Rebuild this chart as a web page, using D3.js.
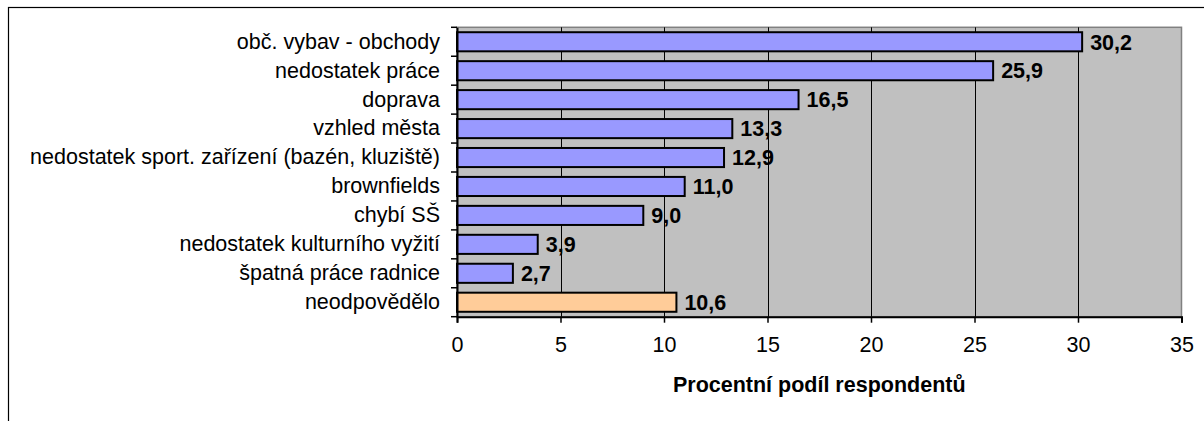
<!DOCTYPE html>
<html>
<head>
<meta charset="utf-8">
<script src="https://cdn.jsdelivr.net/npm/d3@7"></script>
<style>
html,body{margin:0;padding:0;background:#fff;}
svg{display:block;}
text{font-family:"Liberation Sans",Arial,sans-serif;}
</style>
</head>
<body>
<svg id="chart" width="1204" height="421"></svg>
<script>
const categories = ["obč. vybav - obchody","nedostatek práce","doprava","vzhled města","nedostatek sport. zařízení (bazén, kluziště)","brownfields","chybí SŠ","nedostatek kulturního vyžití","špatná práce radnice","neodpovědělo"];
const values = [30.2,25.9,16.5,13.3,12.9,11.0,9.0,3.9,2.7,10.6];
const barColors = ["#9999FF","#9999FF","#9999FF","#9999FF","#9999FF","#9999FF","#9999FF","#9999FF","#9999FF","#FFCC99"];
const xTicks = [0,5,10,15,20,25,30,35];
const xTitle = "Procentní podíl respondentů";

const svg = d3.select("#chart");
const L = 457, R = 1181.5, T = 27.3, B = 316.7;
const FS = 21.5;

// outer frame
svg.append("rect").attr("x",8.5).attr("y",7.5).attr("width",1400).attr("height",600)
  .attr("fill","none").attr("stroke","#000").attr("stroke-width",1.2);

const x = d3.scaleLinear().domain([0,35]).range([L,R]);
const y = d3.scaleBand().domain(categories).range([T,B]).paddingInner(0.34).paddingOuter(0.17);

// plot background
svg.append("rect").attr("x",L).attr("y",T).attr("width",R-L).attr("height",B-T)
  .attr("fill","#C0C0C0").attr("stroke","#808080").attr("stroke-width",1.5);

// gridlines
svg.append("g").selectAll("line").data(xTicks.filter(d=>d>0 && d<35)).join("line")
  .attr("x1",d=>Math.round(x(d))+0.5).attr("x2",d=>Math.round(x(d))+0.5)
  .attr("y1",T).attr("y2",B).attr("stroke","#000").attr("stroke-width",1);

// bars
svg.append("g").selectAll("rect").data(values).join("rect")
  .attr("x",x(0)).attr("y",(d,i)=>y(categories[i]))
  .attr("width",d=>x(d)-x(0)).attr("height",y.bandwidth())
  .attr("fill",(d,i)=>barColors[i]).attr("stroke","#000").attr("stroke-width",2);

// value labels
svg.append("g").selectAll("text").data(values).join("text")
  .attr("x",d=>x(d)+8).attr("y",(d,i)=>y(categories[i])+y.bandwidth()/2)
  .attr("dy","0.36em").attr("font-size",FS).attr("font-weight","bold").attr("fill","#000")
  .text(d=>d.toFixed(1).replace(".",","));

// x axis
const xAxis = d3.axisBottom(x).tickValues(xTicks).tickSize(6).tickPadding(14).tickFormat(d=>d);
const gx = svg.append("g").attr("transform",`translate(0,${B})`).call(xAxis);
gx.select(".domain").attr("stroke","#000").attr("stroke-width",2);
gx.selectAll(".tick line").attr("stroke","#000").attr("stroke-width",1.5);
gx.selectAll(".tick text").attr("font-size",FS).attr("font-family","'Liberation Sans',Arial,sans-serif").attr("fill","#000");

// y axis
const yAxis = d3.axisLeft(y).tickSize(0).tickPadding(17);
const gy = svg.append("g").attr("transform",`translate(${L},0)`).call(yAxis);
gy.select(".domain").attr("stroke","#000").attr("stroke-width",2);
gy.selectAll(".tick text").attr("font-size",FS).attr("font-family","'Liberation Sans',Arial,sans-serif").attr("fill","#000");
// y ticks at category boundaries
const bounds = d3.range(categories.length+1).map(i=>T + i*(B-T)/categories.length);
svg.append("g").selectAll("line").data(bounds).join("line")
  .attr("x1",L-6).attr("x2",L).attr("y1",d=>d).attr("y2",d=>d)
  .attr("stroke","#000").attr("stroke-width",1.5);

// axis title
svg.append("text").attr("x",(L+R)/2).attr("y",392).attr("text-anchor","middle")
  .attr("font-size",FS).attr("font-weight","bold").attr("fill","#000").text(xTitle);
</script>
</body>
</html>
